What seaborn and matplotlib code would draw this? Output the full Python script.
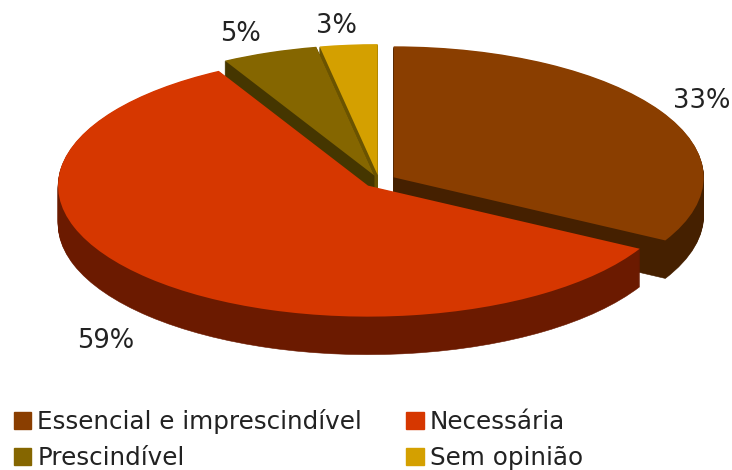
import matplotlib
matplotlib.use('Agg')
import matplotlib.pyplot as plt
import seaborn as sns

categories = ['Essencial e imprescindível', 'Necessária', 'Prescindível', 'Sem opinião']
values = [33, 59, 5, 3]
top_colors = ['#8A3E00', '#D63700', '#856600', '#D4A000']
side_colors = ['#452000', '#6B1A00', '#453600', '#6A5300']
explode = [0.055, 0.05, 0.045, 0.045]

# painted back to front, so each slice hides the side of the one behind it
draw_order = [0, 3, 2, 1]

width, height = 732, 470
rx, ry = 310, 131
cx, cy = 379, 181
depth = 38

sns.set_style('white')
plt.rcParams['font.family'] = ['DejaVu Sans']

fig = plt.figure(figsize=(width / 100, height / 100), dpi=100)
ax = fig.add_axes([0, 0, 1, 1])

for k in range(depth, -1, -1):
    colors = top_colors if k == 0 else side_colors
    wedges, _ = ax.pie(values, colors=sns.color_palette(colors), explode=explode,
                       startangle=90, counterclock=False, center=(0, -k / ry),
                       wedgeprops={'linewidth': 0.4 if k else 0})
    for i, wedge in enumerate(wedges):
        wedge.set_edgecolor(side_colors[i] if k else top_colors[i])
        wedge.set_zorder(draw_order.index(i) * 10 + (depth - k) * 0.01)

ax.set_aspect('auto')
ax.set_xlim(-cx / rx, (width - cx) / rx)
ax.set_ylim((cy - height) / ry, cy / ry)

label_pos = [(702, 101), (106, 341), (240, 34), (336, 26)]
for v, (x, y) in zip(values, label_pos):
    fig.text(x / width, 1 - y / height, '%d%%' % v, fontsize=18.5, color='#222222',
             ha='center', va='center')

# legend fills by column, the reference reads by row
handles = [plt.Rectangle((0, 0), 1, 1, color=c) for c in top_colors]
order = [0, 2, 1, 3]
fig.legend([handles[i] for i in order], [categories[i] for i in order], ncols=2,
           loc='upper left', frameon=False,
           bbox_to_anchor=(14 / width, 1 - 409 / height), borderpad=0, borderaxespad=0,
           fontsize=17.7, handlelength=0.7, handleheight=0.7, handletextpad=0.25,
           columnspacing=1.8, labelspacing=0.5, labelcolor='#222222')

plt.savefig('out.png', dpi=100)
